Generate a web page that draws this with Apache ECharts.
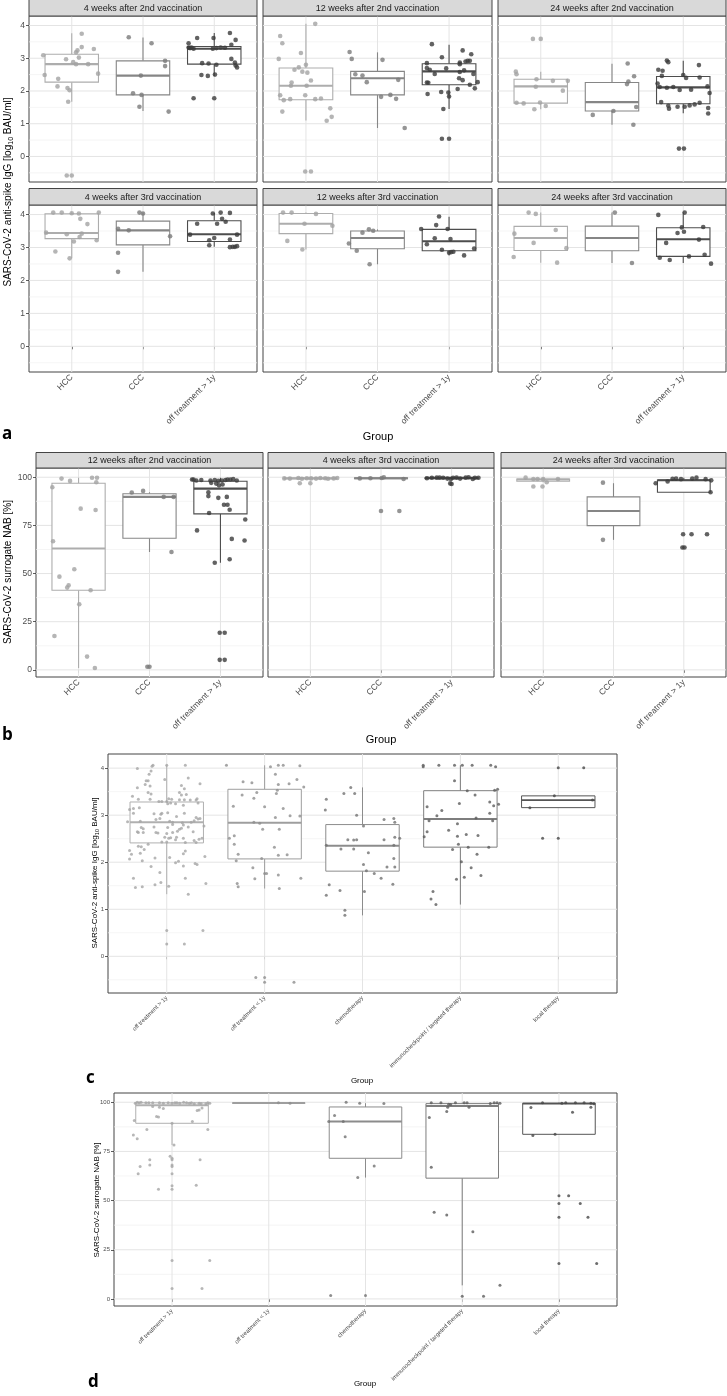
<!DOCTYPE html>
<html><head><meta charset="utf-8">
<script src="https://cdn.jsdelivr.net/npm/echarts@6/dist/echarts.min.js"></script>
<style>html,body{margin:0;padding:0;background:#fff}#c{width:727px;height:1396px}</style>
</head><body><div id="c"></div><script>
// ---------- categories & tick labels ----------
const catsAB = ['HCC', 'CCC', 'off treatment > 1y'];
const catsCD = ['off treatment > 1y', 'off treatment < 1y', 'chemotherapy', 'immunocheckpoint / targeted therapy', 'local therapy'];
const stripsA = ['4 weeks after 2nd vaccination', '12 weeks after 2nd vaccination', '24 weeks after 2nd vaccination',
                 '4 weeks after 3rd vaccination', '12 weeks after 3rd vaccination', '24 weeks after 3rd vaccination'];
const stripsB = ['12 weeks after 2nd vaccination', '4 weeks after 3rd vaccination', '24 weeks after 3rd vaccination'];
const ticksIgG = [0, 1, 2, 3, 4];
const minorIgG = [-0.5, 0.5, 1.5, 2.5, 3.5];
const ticksNAB = [0, 25, 50, 75, 100];
const minorNAB = [12.5, 37.5, 62.5, 87.5];

// ---------- panel a: IgG (values per group: HCC, CCC, off treatment > 1y) ----------
const a1_values = [
  [3.09,3.75,2.49,2.37,2.14,2.97,3.18,3.24,3.34,3.02,2.88,2.82,2.82,3.28,2.53,2.09,2.02,1.67,-0.58,-0.58],
  [3.64,3.46,2.92,2.76,2.47,1.93,1.88,1.52,1.37],
  [3.46,3.33,3.31,3.29,3.62,3.62,3.77,3.56,3.41,3.29,3.31,3.33,3.32,2.98,2.87,2.78,2.72,2.85,2.84,2.80,2.49,2.46,2.50,1.78,1.78,3.33]];
const a1_jitter = [
  [-0.40,0.14,-0.38,-0.19,-0.20,-0.08,0.06,0.08,0.14,0.10,0.02,0.06,0.23,0.31,0.37,-0.06,-0.03,-0.05,-0.07,0.0],
  [-0.20,0.12,0.31,0.31,-0.03,-0.14,-0.02,-0.05,0.36],
  [-0.36,-0.36,-0.34,-0.29,-0.24,-0.01,0.22,0.30,0.24,-0.02,0.03,0.09,0.15,0.24,0.29,0.30,0.32,-0.17,-0.08,0.03,-0.18,-0.09,0.01,-0.29,0.0,-0.32]];
const a1_box = [[1.67,2.27,2.82,3.12,3.76],[1.39,1.88,2.47,2.92,3.63],[2.46,2.82,3.29,3.36,3.77]];

const a2_values = [
  [3.68,3.46,4.05,2.98,3.16,2.80,2.72,2.65,2.59,2.56,2.32,2.26,2.16,2.16,1.87,1.72,1.75,1.87,1.75,1.77,1.37,1.47,1.21,1.09,-0.46,-0.46],
  [3.19,2.98,2.51,2.47,2.27,2.95,2.34,1.82,1.88,1.76,0.87],
  [3.43,3.24,3.12,3.03,2.87,2.90,2.92,2.92,2.85,2.82,2.70,2.65,2.69,2.52,2.58,2.63,2.52,2.39,2.33,2.26,2.25,2.27,2.19,1.91,1.97,1.95,1.83,2.06,2.08,1.45,0.54,0.54]];
const a2_jitter = [
  [-0.36,-0.33,0.13,-0.38,-0.07,0.0,-0.10,-0.16,-0.05,0.02,0.07,-0.20,-0.21,0.01,-0.36,-0.31,-0.22,-0.01,0.13,0.21,-0.33,0.34,0.36,0.29,-0.01,0.07],
  [-0.39,-0.36,-0.31,-0.21,-0.15,0.07,0.29,0.05,0.18,0.26,0.38],
  [-0.24,0.19,0.31,-0.10,0.15,0.23,0.26,0.29,-0.31,0.15,-0.31,-0.27,-0.04,-0.20,0.15,0.21,0.34,0.14,0.19,-0.31,-0.29,0.40,0.29,-0.30,-0.11,-0.01,0.0,0.12,0.36,-0.08,-0.10,0.0]];
const a2_box = [[1.10,1.73,2.16,2.70,4.05],[0.87,1.88,2.39,2.60,3.18],[1.45,2.19,2.60,2.83,3.41]];

const a3_values = [
  [3.59,3.59,2.59,2.51,2.36,2.31,2.31,2.13,2.01,1.64,1.62,1.65,1.54,1.44],
  [2.84,2.45,2.21,2.29,1.51,1.27,1.39,0.97],
  [2.93,2.88,2.79,2.65,2.62,2.46,2.49,2.40,2.41,2.23,2.12,2.10,2.12,2.03,2.04,2.14,1.94,1.66,1.55,1.46,1.52,1.52,1.56,1.59,1.64,1.48,1.31,0.24,0.24]];
const a3_jitter = [
  [-0.11,0.0,-0.35,-0.34,-0.06,0.17,0.38,-0.07,0.31,-0.34,-0.24,-0.01,0.07,-0.09],
  [0.22,0.31,0.21,0.23,0.34,-0.27,0.02,0.30],
  [-0.23,-0.21,0.22,-0.35,-0.29,-0.30,0.0,0.04,0.23,-0.36,-0.33,-0.23,-0.14,-0.05,0.11,0.34,0.37,-0.31,-0.21,-0.20,-0.08,0.02,0.09,0.16,0.23,0.35,0.35,-0.06,0.01]];
const a3_box = [[1.44,1.63,2.14,2.36,2.59],[0.97,1.39,1.66,2.26,2.83],[1.32,1.61,2.11,2.44,2.92]];

const a4_values = [
  [4.06,4.06,4.04,4.03,4.06,3.87,3.71,3.45,3.40,3.42,3.32,3.18,3.22,2.88,2.67],
  [4.06,4.03,3.57,3.52,3.34,2.84,2.26],
  [4.03,4.06,4.05,3.87,3.78,3.72,3.72,3.39,3.39,3.29,3.22,3.24,3.07,3.01,3.02,3.02,3.04]];
const a4_jitter = [
  [-0.26,-0.14,0.0,0.10,0.38,0.12,0.22,-0.36,-0.07,0.14,0.11,0.03,0.35,-0.23,-0.03],
  [-0.05,0.0,-0.35,-0.20,0.38,-0.35,-0.35],
  [-0.02,0.09,0.22,0.11,0.16,-0.24,0.04,-0.34,0.32,0.0,-0.07,0.22,-0.07,0.22,0.26,0.29,0.32]];
const a4_box = [[2.67,3.27,3.44,4.02,4.06],[2.26,3.08,3.52,3.80,4.06],[3.02,3.18,3.40,3.81,4.05]];

const a5_values = [
  [4.06,4.06,4.02,3.72,3.66,3.20,2.94],
  [3.12,2.90,3.45,3.55,3.51,2.49],
  [3.94,3.68,3.56,3.56,3.28,3.26,3.10,2.93,2.84,2.86,2.87,2.76,2.97]];
const a5_jitter = [
  [-0.32,-0.20,0.14,-0.02,0.37,-0.26,-0.05],
  [-0.40,-0.29,-0.21,-0.12,-0.06,-0.11],
  [-0.14,-0.18,-0.39,-0.02,-0.20,0.02,-0.31,-0.10,0.0,0.03,0.06,0.21,0.35]];
const a5_box = [[2.94,3.42,3.72,4.03,4.06],[2.49,2.96,3.29,3.50,3.55],[2.76,2.90,3.19,3.55,3.93]];

const a6_values = [
  [4.06,4.02,3.42,3.53,3.14,2.98,2.71,2.54],
  [4.06,2.53],
  [3.99,4.06,3.61,3.62,3.44,3.48,3.24,3.14,2.69,2.62,2.73,2.78,2.51]];
const a6_jitter = [
  [-0.17,-0.07,-0.37,0.21,-0.10,0.36,-0.38,0.23],
  [0.04,0.28],
  [-0.35,0.02,-0.02,0.28,-0.08,0.01,0.22,-0.24,-0.33,-0.19,0.08,0.30,0.39]];
const a6_box = [[2.54,2.91,3.29,3.64,4.06],[2.53,2.90,3.29,3.65,4.06],[2.53,2.73,3.25,3.60,4.06]];

// ---------- panel b: NAB % ----------
const b1_values = [
  [99.3,98.1,99.7,99.7,97.4,94.8,83.7,83.0,66.8,52.2,48.4,43.9,42.7,41.3,34.1,17.6,6.9,1.0],
  [92.1,92.9,89.8,89.8,61.2,1.6,1.6],
  [98.8,98.8,98.3,98.6,98.3,98.6,98.1,98.3,98.6,98.8,98.8,99.0,98.3,97.1,96.7,96.2,95.8,
   92.2,90.2,89.3,89.8,85.7,85.7,83.1,81.4,78.1,72.4,68.0,67.2,57.4,55.6,19.3,19.3,5.2,5.2]];
const b1_jitter = [
  [-0.24,-0.12,0.19,0.26,0.25,-0.37,0.03,0.24,-0.36,-0.06,-0.27,-0.14,-0.16,0.17,0.01,-0.34,0.12,0.23],
  [-0.25,-0.09,0.20,0.34,0.31,-0.03,0.0],
  [-0.40,-0.38,-0.34,-0.27,-0.14,-0.08,-0.03,0.02,0.07,0.10,0.14,0.18,0.23,-0.13,-0.06,0.03,-0.02,
   -0.17,-0.17,-0.03,0.09,0.05,0.10,0.13,-0.16,0.35,-0.33,0.16,0.34,0.13,-0.08,-0.01,0.06,-0.01,0.06]];
const b1_box = [[1.0,41.3,63.0,96.9,99.7],[61.2,68.3,89.8,91.4,92.2],[55.6,81.0,94.1,97.9,99.7]];

const b2_values = [
  [99.4,99.3,99.6,99.2,99.5,99.4,99.3,99.6,99.5,99.2,99.4,99.6,96.9,96.9],
  [99.6,100,99.1,99.4,99.5,82.5,82.5],
  [99.5,99.7,99.8,99.8,99.7,99.3,99.1,99.7,99.8,99.3,99.8,100,99.1,99.7,99.7,96.8,96.5]];
const b2_jitter = [
  [-0.37,-0.29,-0.17,-0.12,-0.05,0.01,0.08,0.14,0.21,0.25,0.33,0.38,-0.15,0.0],
  [0.01,0.04,0.32,-0.30,-0.15,0.0,0.26],
  [-0.35,-0.28,-0.21,-0.17,-0.12,-0.06,-0.01,0.02,0.07,0.12,0.20,0.24,0.30,0.33,0.38,-0.02,0.0]];
const b2_box = [[98.9,99.2,99.4,99.6,100],[99.1,99.3,99.5,99.7,100],[98.9,99.3,99.7,99.8,100]];

const b3_values = [
  [99.8,99.1,99.1,99.0,97.4,99.1,95.2,95.2],
  [97.2,67.5],
  [96.9,97.8,99.3,99.8,99.0,98.4,92.2,70.4,70.4,70.4,63.5,63.5,99.2,99.0,99.3]];
const b3_jitter = [
  [-0.25,-0.14,-0.08,0.0,0.05,0.21,-0.14,-0.01],
  [-0.15,-0.15],
  [-0.40,-0.23,-0.11,0.18,0.31,0.39,0.38,-0.01,0.11,0.33,-0.02,0.01,-0.16,-0.04,0.12]];
const b3_box = [[97.4,97.9,98.8,99.1,99.8],[67.5,74.9,82.5,89.8,96.9],[92.2,92.2,98.4,98.6,99.8]];

// ---------- panel c: IgG by treatment ----------
const c_values = [
  [4.06,4.04,4.06,4.06,3.94,3.87,3.99,3.73,3.73,3.76,3.65,3.58,3.62,3.63,3.79,3.56,3.67,3.48,3.45,3.48,3.43,3.44,3.40,3.34,3.34,3.35,3.34,3.33,3.33,3.32,3.32,3.35,3.26,
   3.12,3.14,3.16,3.04,3.29,3.24,3.26,3.24,3.21,3.29,3.29,3.03,3.02,3.04,3.05,2.97,3.04,2.95,2.92,2.93,2.86,2.87,2.91,2.93,2.87,2.85,2.84,2.85,2.88,
   2.74,2.71,2.75,2.74,2.80,2.70,2.72,2.79,2.75,2.77,2.65,2.63,2.63,2.63,2.62,2.61,2.63,2.66,2.65,2.53,2.51,2.52,2.53,2.48,2.51,2.49,2.51,2.46,
   2.43,2.43,2.42,2.42,2.34,2.33,2.38,2.27,2.25,2.19,2.17,2.24,2.18,2.12,2.07,2.09,2.10,2.03,1.99,2.02,1.97,1.95,1.92,1.91,1.78,1.66,1.66,1.57,1.52,
   1.48,1.46,1.49,1.55,1.32,0.55,0.55,0.26,0.26],
  [4.06,4.03,4.06,4.06,4.05,3.87,3.76,3.71,3.69,3.65,3.67,3.60,3.53,3.48,3.46,3.43,3.36,3.19,3.18,3.14,2.99,2.98,2.95,2.85,2.83,2.70,2.70,2.51,2.56,
   2.38,2.32,2.17,2.15,2.16,2.03,2.08,1.88,1.76,1.76,1.73,1.65,1.66,1.55,1.48,1.44,-0.45,-0.45,-0.55,-0.55],
  [3.59,3.46,3.46,3.34,3.11,3.00,2.77,2.48,2.47,2.48,2.48,2.51,2.36,2.36,2.28,2.28,2.20,2.91,2.93,2.85,2.53,2.08,1.95,1.82,1.76,1.66,1.90,1.90,
   1.53,1.52,1.30,1.40,1.38,0.98,0.87],
  [4.06,4.03,4.06,4.06,4.06,4.06,4.06,4.03,3.73,3.52,3.53,3.55,3.43,3.25,3.28,3.18,3.10,3.20,3.23,2.99,3.04,2.94,2.88,2.88,2.82,2.65,2.68,2.54,
   2.55,2.59,2.57,2.38,2.32,2.32,2.27,2.17,2.01,1.88,1.72,1.68,1.64,1.38,1.22,1.10],
  [4.01,4.01,3.41,3.32,3.16,2.51,2.51]];
const c_jitter = [
  [-0.14,-0.15,0.0,0.19,-0.16,-0.18,-0.30,-0.19,-0.21,-0.02,-0.22,-0.30,-0.17,0.15,0.22,0.18,0.34,-0.19,-0.16,0.13,0.15,0.20,-0.35,-0.29,-0.17,0.02,0.05,0.13,0.18,0.24,0.30,0.31,0.32,
   -0.38,-0.34,-0.28,-0.34,0.0,0.01,0.04,0.09,0.17,-0.08,-0.05,-0.13,-0.06,-0.05,0.01,0.10,0.18,0.30,0.32,0.34,-0.40,-0.27,-0.11,-0.07,0.03,0.06,0.16,0.25,0.28,
   -0.26,-0.24,-0.13,0.01,0.06,0.13,0.15,0.17,0.22,0.38,-0.30,-0.29,-0.24,-0.11,-0.09,0.0,0.06,0.11,0.27,-0.02,0.02,0.04,0.10,0.09,0.17,0.33,0.36,0.28,
   -0.05,0.0,0.19,0.30,-0.29,-0.26,-0.19,-0.23,-0.38,-0.27,-0.36,0.19,0.17,0.39,-0.38,-0.12,0.03,-0.25,0.09,0.12,0.29,0.31,0.17,-0.16,-0.07,-0.34,0.19,-0.06,-0.12,
   -0.25,-0.32,0.02,0.40,0.22,0.0,0.37,0.0,0.18],
  [-0.39,0.06,0.14,0.19,0.36,0.11,0.33,-0.22,-0.13,0.14,0.25,0.40,0.13,-0.08,0.12,-0.23,-0.11,-0.32,0.0,0.19,0.26,0.36,0.11,-0.11,-0.05,-0.02,0.15,-0.36,-0.31,
   -0.31,0.10,-0.27,0.14,0.23,-0.29,-0.03,-0.12,0.0,0.02,0.14,-0.10,0.37,-0.28,-0.27,0.15,-0.09,0.0,0.0,0.30],
  [-0.12,-0.08,-0.19,-0.37,-0.38,-0.06,0.01,-0.15,-0.09,-0.06,0.22,0.38,0.32,-0.37,-0.22,-0.09,0.06,0.22,0.32,0.33,0.33,0.32,0.01,0.04,0.12,0.19,0.25,0.33,
   0.31,-0.34,-0.37,-0.23,0.02,-0.18,-0.18],
  [-0.38,-0.38,-0.22,-0.06,0.02,0.12,0.31,0.36,-0.06,0.07,0.35,0.38,0.15,-0.01,0.30,-0.34,-0.19,0.34,0.39,-0.24,0.30,0.16,-0.32,0.33,-0.03,-0.34,-0.12,-0.37,
   -0.03,0.06,0.18,-0.02,0.08,0.29,-0.08,0.17,0.01,0.11,0.21,0.04,-0.04,-0.28,-0.30,-0.25],
  [0.0,0.26,-0.04,0.35,-0.29,-0.16,0.0]];
const c_box = [[1.32,2.41,2.85,3.28,4.06],[1.44,2.07,2.84,3.55,4.06],[0.87,1.81,2.35,2.80,3.59],[1.10,2.32,2.92,3.52,4.06],[3.16,3.16,3.32,3.41,3.41]];

// ---------- panel d: NAB % by treatment ----------
const d_values = [
  [99.5,100,99.8,100,99.8,99.8,99.8,99.7,99.5,99.8,99.5,99.8,99.7,99.5,100,99.7,99.5,99.8,99.2,99.5,99.3,99.2,99.7,99.5,
   97.8,97.5,96.8,92.7,92.5,96.1,95.8,97.1,90.7,89.3,90.2,86.1,86.1,83.4,81.5,78.3,72.5,71.5,70.7,70.7,70.7,67.3,68.1,68.1,67.3,
   63.6,63.6,57.5,57.8,55.8,55.8,19.5,19.5,5.3,5.3],
  [99.8,99.5],
  [100,99.5,99.3,93.2,90.2,90.2,82.5,67.6,61.7,1.7,1.7],
  [99.8,99.8,99.0,98.8,99.8,99.8,99.8,99.3,99.8,99.7,99.5,97.5,97.5,95.3,92.2,66.9,44.1,42.7,34.2,6.9,1.4,1.4],
  [99.8,99.5,99.8,99.8,99.8,99.5,99.2,97.3,97.5,94.9,83.1,83.7,52.4,52.4,48.5,48.5,41.5,41.5,18.0,18.0]];
const d_jitter = [
  [-0.38,-0.36,-0.34,-0.32,-0.27,-0.24,-0.20,-0.13,-0.09,-0.04,0.0,0.03,0.05,0.08,0.12,0.15,0.18,0.20,0.23,0.28,0.30,0.35,0.37,0.39,
   -0.20,-0.13,-0.09,-0.16,-0.14,0.28,0.26,0.31,-0.39,0.0,0.21,-0.26,0.37,-0.40,-0.36,0.02,-0.02,0.0,-0.23,0.0,0.29,-0.33,-0.23,0.0,0.0,
   -0.35,0.0,0.0,0.25,-0.14,0.0,0.0,0.39,0.0,0.31],
  [0.10,0.22],
  [-0.20,-0.06,0.19,-0.32,-0.38,-0.23,-0.21,0.09,-0.08,-0.36,0.0],
  [-0.32,-0.22,-0.14,-0.12,-0.07,0.02,0.05,0.29,0.33,0.36,0.39,-0.15,0.07,-0.16,-0.34,-0.32,-0.29,-0.16,0.11,0.39,0.0,0.22],
  [-0.17,0.03,0.07,0.17,0.26,0.33,0.36,-0.29,0.33,0.14,-0.27,-0.04,0.0,0.10,0.0,0.22,0.0,0.30,0.0,0.39]];
const d_box = [[78.3,89.3,98.5,99.7,100],[99.5,99.5,99.6,99.7,99.8],[61.7,71.5,90.2,97.6,99.5],[6.9,61.4,98.1,99.3,99.8],[83.7,83.7,99.3,99.5,99.8]];

// ---------- styling ----------
const F = '"Liberation Sans", Arial, Helvetica, sans-serif';
const ptAB = ['#A3A3A3', '#7A7A7A', '#3B3B3B'];
const bxAB = ['#ADADAD', '#868686', '#4D4D4D'];
const ptCD = ['#A5A5A5', '#8E8E8E', '#727272', '#5C5C5C', '#474747'];
const bxCD = ['#B0B0B0', '#9E9E9E', '#8C8C8C', '#7E7E7E', '#555555'];

const igA = {cats: catsAB, ymin: -0.78, ymax: 4.29, ticks: ticksIgG, minor: minorIgG, pal: ptAB, bpal: bxAB, ps: 4.6, fs: 8.5, lw: 1.1, hw: 0.375};
const nbB = {cats: catsAB, ymin: -3.7, ymax: 104.8, ticks: ticksNAB, minor: minorNAB, pal: ptAB, bpal: bxAB, ps: 4.6, fs: 8.5, lw: 1.1, hw: 0.375};
const igC = {cats: catsCD, ymin: -0.78, ymax: 4.3, ticks: ticksIgG, minor: minorIgG, pal: ptCD, bpal: bxCD, ps: 3.0, fs: 6, lw: 1.0, hw: 0.375};
const nbD = {cats: catsCD, ymin: -3.6, ymax: 104.7, ticks: ticksNAB, minor: minorNAB, pal: ptCD, bpal: bxCD, ps: 3.0, fs: 6, lw: 1.0, hw: 0.375};

const panels = [
  Object.assign({}, igA, {left: 29,  top: 16,  width: 228, height: 166, vals: a1_values, jit: a1_jitter, box: a1_box, showX: false, showY: true,  strip: stripsA[0], sy: -0.5, sh: 16.5}),
  Object.assign({}, igA, {left: 263, top: 16,  width: 229, height: 166, vals: a2_values, jit: a2_jitter, box: a2_box, showX: false, showY: false, strip: stripsA[1], sy: -0.5, sh: 16.5}),
  Object.assign({}, igA, {left: 498, top: 16,  width: 228, height: 166, vals: a3_values, jit: a3_jitter, box: a3_box, showX: false, showY: false, strip: stripsA[2], sy: -0.5, sh: 16.5}),
  Object.assign({}, igA, {left: 29,  top: 205, width: 228, height: 167, vals: a4_values, jit: a4_jitter, box: a4_box, showX: true,  showY: true,  strip: stripsA[3], sy: 188.5, sh: 16.5}),
  Object.assign({}, igA, {left: 263, top: 205, width: 229, height: 167, vals: a5_values, jit: a5_jitter, box: a5_box, showX: true,  showY: false, strip: stripsA[4], sy: 188.5, sh: 16.5}),
  Object.assign({}, igA, {left: 498, top: 205, width: 228, height: 167, vals: a6_values, jit: a6_jitter, box: a6_box, showX: true,  showY: false, strip: stripsA[5], sy: 188.5, sh: 16.5}),
  Object.assign({}, nbB, {left: 36,  top: 468, width: 227, height: 209, vals: b1_values, jit: b1_jitter, box: b1_box, showX: true,  showY: true,  strip: stripsB[0], sy: 452.5, sh: 15.5}),
  Object.assign({}, nbB, {left: 268, top: 468, width: 226, height: 209, vals: b2_values, jit: b2_jitter, box: b2_box, showX: true,  showY: false, strip: stripsB[1], sy: 452.5, sh: 15.5}),
  Object.assign({}, nbB, {left: 501, top: 468, width: 225, height: 209, vals: b3_values, jit: b3_jitter, box: b3_box, showX: true,  showY: false, strip: stripsB[2], sy: 452.5, sh: 15.5}),
  Object.assign({}, igC, {left: 108, top: 754, width: 509, height: 239, vals: c_values, jit: c_jitter, box: c_box, showX: true, showY: true, strip: null}),
  Object.assign({}, nbD, {left: 114, top: 1093, width: 503, height: 213, vals: d_values, jit: d_jitter, box: d_box, showX: true, showY: true, strip: null})
];

const grids = [], xAxes = [], yAxes = [], series = [], graphics = [];

panels.forEach((p, i) => {
  const n = p.cats.length;
  const idx = p.cats.map((c, k) => k + 1);
  grids.push({left: p.left, top: p.top, width: p.width, height: p.height, show: true, borderColor: '#444', borderWidth: 1, backgroundColor: '#fff', containLabel: false});
  xAxes.push({gridIndex: i, type: 'value', min: 0.4, max: n + 0.6, axisLine: {show: false}, splitLine: {show: false},
    axisTick: {show: p.showX, customValues: idx, length: 3, lineStyle: {color: '#333', width: 0.8}},
    axisLabel: {show: p.showX, customValues: idx, rotate: 45, margin: 4, fontSize: p.fs, fontFamily: F, color: '#4D4D4D',
      formatter: v => p.cats[Math.round(v) - 1] || ''}});
  yAxes.push({gridIndex: i, type: 'value', min: p.ymin, max: p.ymax, axisLine: {show: false}, splitLine: {show: false},
    axisTick: {show: p.showY, customValues: p.ticks, length: 3, lineStyle: {color: '#333', width: 0.8}},
    axisLabel: {show: p.showY, customValues: p.ticks, margin: 4, fontSize: p.fs, fontFamily: F, color: '#4D4D4D'}});

  const xm = (n + 1) / 2, ym = (p.ymin + p.ymax) / 2;
  const gl = [].concat(p.ticks.map(t => [xm, t, 1, 0]), p.minor.map(t => [xm, t, 0, 0]), idx.map(k => [k, ym, 1, 1]));
  series.push({type: 'custom', xAxisIndex: i, yAxisIndex: i, z: 1, silent: true, animation: false, data: gl,
    renderItem: (params, api) => {
      const cs = params.coordSys;
      const pt = api.coord([api.value(0), api.value(1)]);
      const major = api.value(2), vert = api.value(3);
      const shape = vert ? {x1: pt[0], y1: cs.y, x2: pt[0], y2: cs.y + cs.height}
                         : {x1: cs.x, y1: pt[1], x2: cs.x + cs.width, y2: pt[1]};
      return {type: 'line', shape, style: {stroke: major ? '#E4E4E4' : '#F1F1F1', lineWidth: major ? 1 : 0.7}};
    }});

  series.push({type: 'custom', xAxisIndex: i, yAxisIndex: i, z: 2, silent: true, animation: false,
    data: p.box.map((b, k) => [k + 1].concat(b)),
    encode: {x: 0, y: [1, 2, 3, 4, 5]},
    renderItem: (params, api) => {
      const x = api.value(0);
      const lo = api.value(1), q1 = api.value(2), md = api.value(3), q3 = api.value(4), hi = api.value(5);
      const c = p.bpal[Math.round(x) - 1];
      const pHi = api.coord([x, hi]), pLo = api.coord([x, lo]);
      const pQ3 = api.coord([x - p.hw, q3]), pQ1 = api.coord([x + p.hw, q1]);
      const pMdL = api.coord([x - p.hw, md]), pMdR = api.coord([x + p.hw, md]);
      const pQ3c = api.coord([x, q3]), pQ1c = api.coord([x, q1]);
      return {type: 'group', children: [
        {type: 'line', shape: {x1: pHi[0], y1: pHi[1], x2: pQ3c[0], y2: pQ3c[1]}, style: {stroke: c, lineWidth: p.lw}},
        {type: 'line', shape: {x1: pLo[0], y1: pLo[1], x2: pQ1c[0], y2: pQ1c[1]}, style: {stroke: c, lineWidth: p.lw}},
        {type: 'rect', shape: {x: pQ3[0], y: pQ3[1], width: pQ1[0] - pQ3[0], height: Math.max(pQ1[1] - pQ3[1], 0.5)}, style: {fill: '#fff', stroke: c, lineWidth: p.lw}},
        {type: 'line', shape: {x1: pMdL[0], y1: pMdL[1], x2: pMdR[0], y2: pMdR[1]}, style: {stroke: c, lineWidth: p.lw * 1.9}}
      ]};
    }});

  const pts = [];
  p.vals.forEach((arr, k) => arr.forEach((v, m) => pts.push({value: [k + 1 + p.jit[k][m], v], itemStyle: {color: p.pal[k]}})));
  series.push({type: 'scatter', xAxisIndex: i, yAxisIndex: i, z: 3, silent: true, animation: false, symbolSize: p.ps, data: pts});

  if (p.strip) {
    graphics.push({type: 'rect', z: 50, shape: {x: p.left, y: p.sy, width: p.width, height: p.sh}, style: {fill: '#D9D9D9', stroke: '#444', lineWidth: 1}});
    graphics.push({type: 'text', z: 51, x: p.left + p.width / 2, y: p.sy + p.sh / 2 + 0.5,
      style: {text: p.strip, fontSize: 9, fontFamily: F, fill: '#1A1A1A', align: 'center', verticalAlign: 'middle', textAlign: 'center', textVerticalAlign: 'middle'}});
  }
});

function txt(x, y, text, size, o) {
  o = o || {};
  return {type: 'text', z: 60, x: x, y: y, rotation: o.rot || 0,
    style: {text: text, fontSize: size, fontFamily: o.ff || F, fontWeight: o.fw || 'normal', fill: o.fill || '#000',
      align: o.align || 'center', verticalAlign: o.va || 'middle', textAlign: o.align || 'center', textVerticalAlign: o.va || 'middle', rich: o.rich}};
}
function igTitle(size) {
  return {n: {fontSize: size, fontFamily: F, fill: '#000', lineHeight: size * 1.3, verticalAlign: 'middle'},
          s: {fontSize: size * 0.7, fontFamily: F, fill: '#000', lineHeight: size * 1.3, verticalAlign: 'bottom'}};
}
const igText = '{n|SARS-CoV-2 anti-spike IgG [log}{s|10}{n| BAU/ml]}';
const nabText = 'SARS-CoV-2 surrogate NAB [%]';

graphics.push(txt(8, 192, igText, 10, {rot: Math.PI / 2, rich: igTitle(10)}));
graphics.push(txt(8, 572, nabText, 10, {rot: Math.PI / 2}));
graphics.push(txt(95, 873, igText, 8, {rot: Math.PI / 2, rich: igTitle(8)}));
graphics.push(txt(97, 1200, nabText, 8, {rot: Math.PI / 2}));

graphics.push(txt(378, 437, 'Group', 11));
graphics.push(txt(381, 740, 'Group', 11));
graphics.push(txt(362, 1081, 'Group', 8));
graphics.push(txt(365, 1384, 'Group', 8));

const LF = '"Open Sans", "DejaVu Sans", sans-serif';
graphics.push(txt(2, 434, 'a', 17, {ff: LF, fw: 'bold', align: 'left'}));
graphics.push(txt(2, 735, 'b', 17, {ff: LF, fw: 'bold', align: 'left'}));
graphics.push(txt(86, 1078, 'c', 17, {ff: LF, fw: 'bold', align: 'left'}));
graphics.push(txt(88, 1382, 'd', 17, {ff: LF, fw: 'bold', align: 'left'}));

const chart = echarts.init(document.getElementById('c'), null, {renderer: 'canvas'});
chart.setOption({animation: false, backgroundColor: '#fff', grid: grids, xAxis: xAxes, yAxis: yAxes, series: series, graphic: {elements: graphics}});
</script></body></html>
